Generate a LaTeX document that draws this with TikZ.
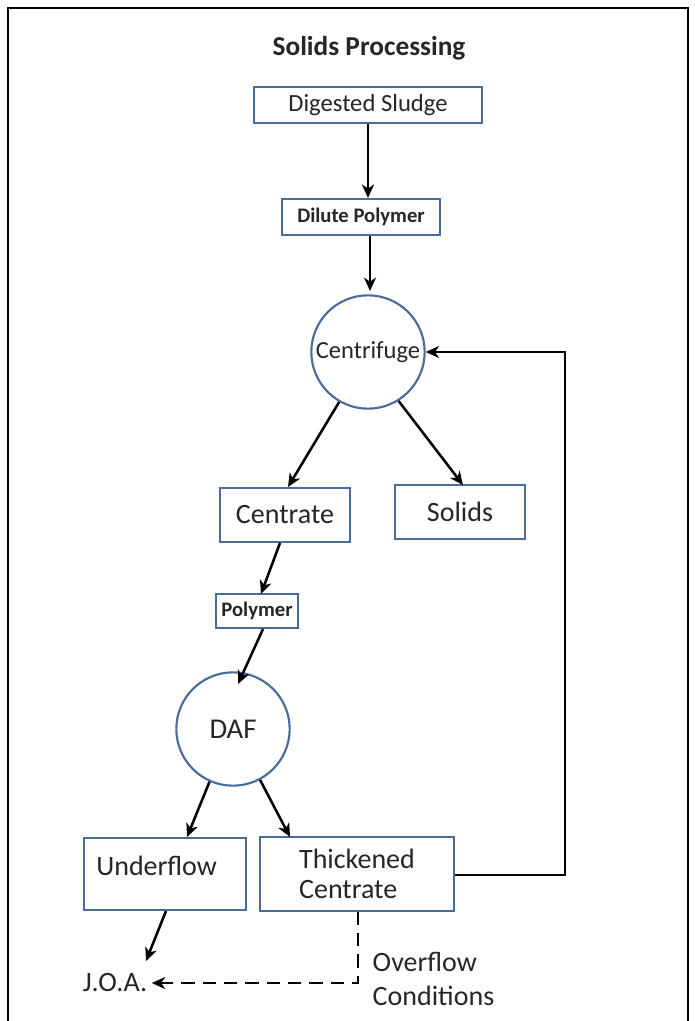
\documentclass[tikz,border=0pt]{standalone}
\usepackage{fontspec}
\setmainfont{Carlito}
\usepackage{tikz}
\usetikzlibrary{arrows.meta,positioning,calc}
\usepackage{xcolor}
\definecolor{boxline}{HTML}{4A6C9B}
\definecolor{ink}{HTML}{262626}
\tikzset{
  procbox/.style={rectangle,draw=boxline,fill=white,text=ink,
    line width=1.6pt,inner sep=2pt,font=\fontsize{21}{23}\selectfont},
  smallbox/.style={procbox,font=\fontsize{15.5}{18}\selectfont\bfseries},
  unit/.style={circle,draw=boxline,fill=white,text=ink,line width=1.6pt,
    inner sep=0pt},
  flow/.style={-{Stealth[length=10pt,width=9pt,inset=3pt]},line width=1.9pt,color=black},
  plain/.style={text=ink,font=\fontsize{21}{25.5}\selectfont},
}
\begin{document}
\begin{tikzpicture}[x=0.75pt,y=-0.75pt]
  \useasboundingbox (0,0) rectangle (695,1021);
  % frame
  \draw[line width=1.4pt] (8,1021) -- (8,8) -- (688,8) -- (688,1021);

  \node[plain,font=\fontsize{20.5}{24}\selectfont\bfseries] (title) at (369,48) {Solids Processing};
  \node[procbox,minimum width=171pt,minimum height=27pt,font=\fontsize{18.5}{22}\selectfont] (sludge) at (368,105) {Digested Sludge};
  \node[smallbox,minimum width=119pt,minimum height=27pt] (dilute) at (361,217) {Dilute Polymer};
  \node[unit,minimum size=85pt,font=\fontsize{18.4}{22}\selectfont] (cent) at (368,352) {Centrifuge};
  \node[procbox,minimum width=97pt,minimum height=41pt] (centrate) at (285,515) {Centrate};
  \node[procbox,minimum width=97pt,minimum height=40pt] (solids) at (460,512) {Solids};
  \node[smallbox,minimum width=62pt,minimum height=26pt] (polymer) at (257,611) {Polymer};
  \node[unit,minimum size=85pt,font=\fontsize{21.5}{25}\selectfont] (daf) at (233,729) {DAF};
  \node[procbox,minimum width=121pt,minimum height=54pt,text depth=12pt,
    inner xsep=9pt,text width=103pt,align=left] (under) at (165,874) {Underflow};
  \node[procbox,minimum width=146pt,minimum height=55pt,align=left] (thick) at (357,874) {Thickened\\Centrate};
  \node[plain] (joa) at (115,983) {J.O.A.};
  \node[plain,anchor=west,align=left] (cond) at (368,979) {Overflow\\Conditions};

  \coordinate (ret) at (565,875);
  \coordinate (dash) at (358,983);

  \draw[flow] (sludge) -- (sludge |- dilute.north);
  \draw[flow] (370,236) -- (370,291);
  \draw[flow] (cent.240) -- (288,487);
  \draw[flow] (cent.302) -- (463,485);
  \draw[flow] (280,543) -- (261,594);
  \draw[flow] (263,629) -- (238,684);
  \draw[flow] (daf.246) -- (187,837);
  \draw[flow] (daf.298) -- (290,837);
  \draw[flow] (thick.east |- ret) -- (ret) -- (ret |- cent.east) -- (cent.east);
  \draw[flow] (166,911) -- (146,961);
  \draw[flow,dashed,dash pattern=on 10pt off 6pt] (dash |- thick.south) -- (dash) -- (joa.east);
\end{tikzpicture}
\end{document}
